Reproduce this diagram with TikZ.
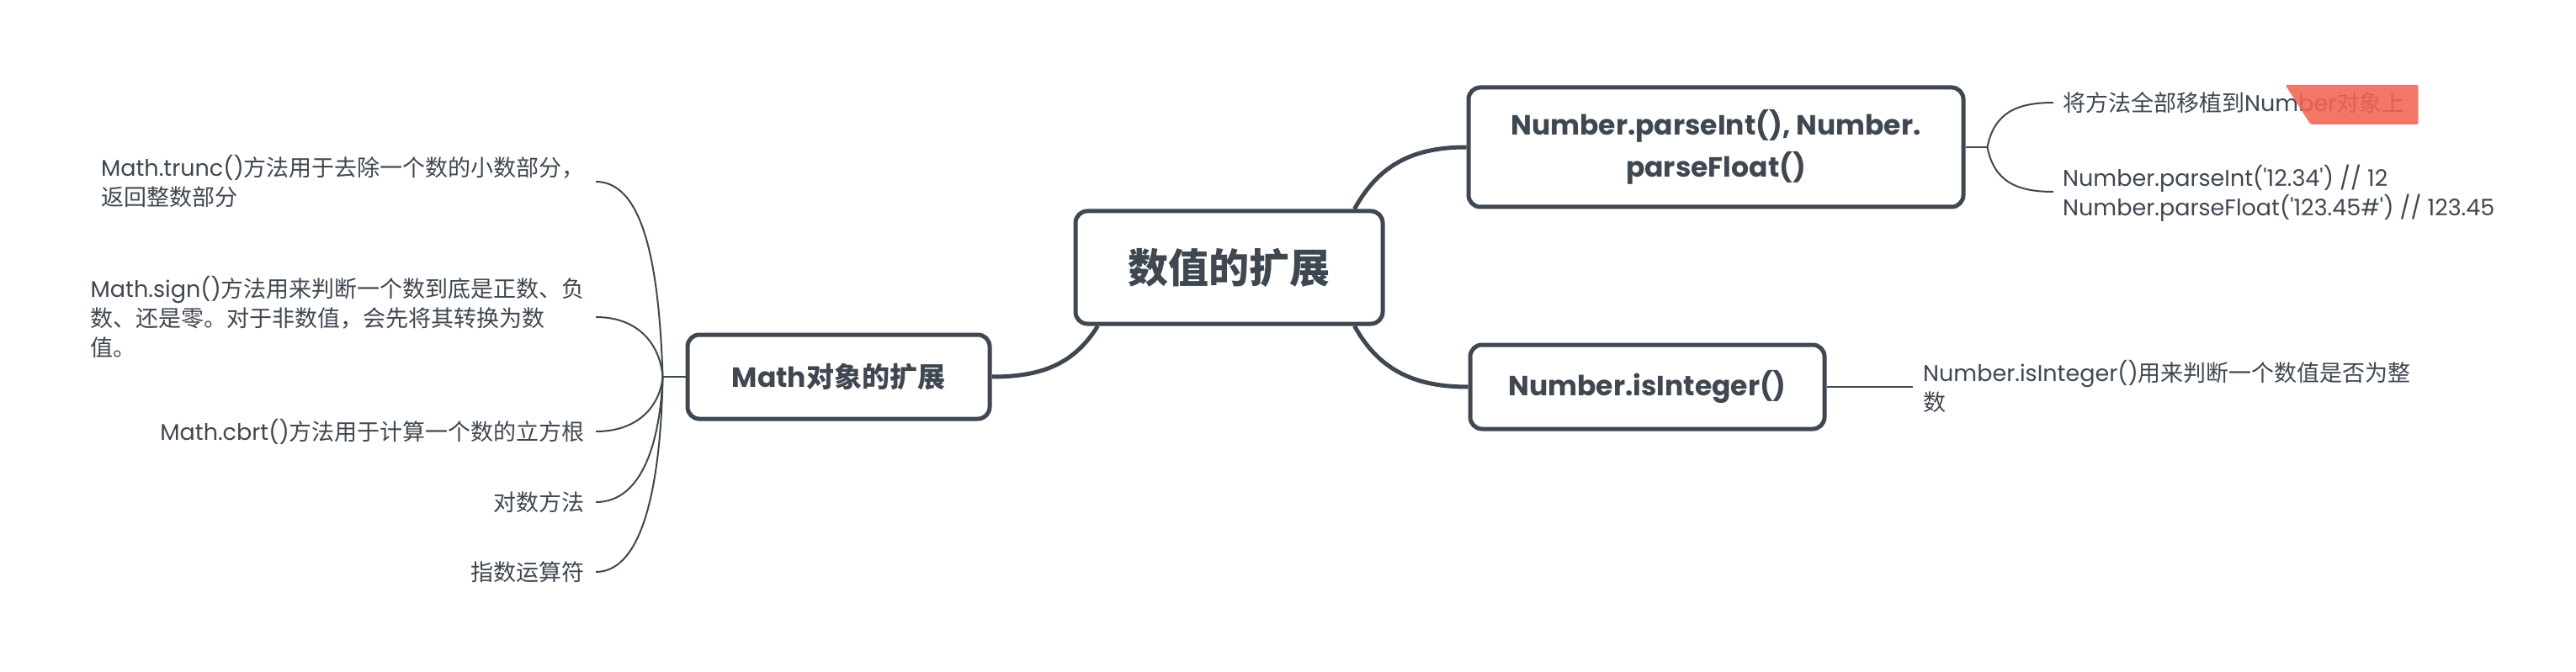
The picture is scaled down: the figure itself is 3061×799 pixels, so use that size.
\documentclass[tikz,border=0pt]{standalone}
\usepackage{fontspec}
\setmainfont{Poppins}
\newfontfamily\zhfont{Noto Sans CJK SC}
\usetikzlibrary{calc}
\definecolor{ink}{HTML}{3F4751}
\definecolor{hl}{HTML}{F26552}
\newcommand\zh[1]{{\zhfont #1}}
\pgfdeclarelayer{bg}\pgfsetlayers{bg,main}
\begin{document}
\begin{tikzpicture}[x=1pt,y=-1pt,
  topic/.style={draw=ink, line width=5pt, rounded corners=14pt, fill=white, text=ink, inner sep=0pt,
    font=\bfseries\fontsize{33}{50}\selectfont, align=center},
  leaf/.style={text=ink, inner sep=0pt, align=left, font=\fontsize{27}{35}\selectfont},
  thicklink/.style={draw=ink, line width=5pt},
  thinlink/.style={draw=ink, line width=2pt}]
\useasboundingbox (0,0) rectangle (3061,799);

% topics
\node[topic, minimum width=365pt, minimum height=134pt, font=\bfseries\fontsize{48}{56}\selectfont] (c) at (1460.5,318) {\zh{数值的扩展}};
\node[topic, minimum width=588pt, minimum height=142pt] (p) at (2039,175) {Number.parseInt(), Number.\\parseFloat()};
\node[topic, minimum width=421pt, minimum height=100pt] (i) at (1957.5,460) {Number.isInteger()};
\node[topic, minimum width=359pt, minimum height=100pt] (m) at (996.5,448) {Math\zh{对象的扩展}};

% leaves right
\node[leaf, anchor=west] (p1) at (2451,122) {\zh{将方法全部移植到}Number\zh{对象上}};
\node[leaf, anchor=west] (p2) at (2451,230) {Number.parseInt(\textquotesingle 12.34\textquotesingle) // 12\\Number.parseFloat(\textquotesingle 123.45\#\textquotesingle) // 123.45};
\node[leaf, anchor=west] (i1) at (2285,460) {Number.isInteger()\zh{用来判断一个数值是否为整}\\\zh{数}};

% leaves left
\node[leaf, anchor=east] (m1) at (695,216) {Math.trunc()\zh{方法用于去除一个数的小数部分，}\\\zh{返回整数部分}};
\node[leaf, anchor=east] (m2) at (695,377) {Math.sign()\zh{方法用来判断一个数到底是正数、负}\\\zh{数、还是零。对于非数值，会先将其转换为数}\\\zh{值。}};
\node[leaf, anchor=east] (m3) at (695,513) {Math.cbrt()\zh{方法用于计算一个数的立方根}};
\node[leaf, anchor=east] (m4) at (695,597) {\zh{对数方法}};
\node[leaf, anchor=east] (m5) at (695,680) {\zh{指数运算符}};

% highlight
\fill[hl, opacity=0.88, rounded corners=2pt] ($(p1.east)+(-142,-21)$) -- ($(p1.east)+(16,-21)$) -- ($(p1.east)+(16,26)$) -- ($(p1.east)+(-112,26)$) -- cycle;

\begin{pgfonlayer}{bg}
\fill[white] (0,0) rectangle (3061,799);
\draw[thicklink] ($(c.north east)+(-36,0)$) .. controls +(30,-55) and +(-60,0) .. (p.west);
\draw[thicklink] ($(c.south east)+(-36,0)$) .. controls +(30,55) and +(-60,0) .. (i.west);
\draw[thicklink] ($(c.south west)+(29,0)$) .. controls +(-28,45) and +(60,0) .. (m.east);

\coordinate (pb) at ($(p.east)+(26,0)$);
\draw[thinlink] (p.east) -- (pb);
\draw[thinlink] (pb) .. controls +(8,-40) and +(-45,0) .. ($(p1.west)+(-11,0)$);
\draw[thinlink] (pb) .. controls +(8,40) and +(-45,0) .. ($(p2.west)+(-11,-2)$);
\draw[thinlink] (i.east) -- ($(i1.west)+(-12,0)$);

\coordinate (mb) at ($(m.west)+(-27,0)$);
\draw[thinlink] (m.west) -- (mb);
\draw[thinlink] (mb) .. controls +(-4,-120) and +(60,0) .. ($(m1.east)+(13,0)$);
\draw[thinlink] (mb) .. controls +(-3,-37) and +(52,0) .. ($(m2.east)+(13,0)$);
\draw[thinlink] (mb) .. controls +(-3,33) and +(52,0) .. ($(m3.east)+(13,0)$);
\draw[thinlink] (mb) .. controls +(-3,73) and +(57,0) .. ($(m4.east)+(13,0)$);
\draw[thinlink] (mb) .. controls +(-2,113) and +(60,0) .. ($(m5.east)+(13,0)$);
\end{pgfonlayer}
\end{tikzpicture}
\end{document}
